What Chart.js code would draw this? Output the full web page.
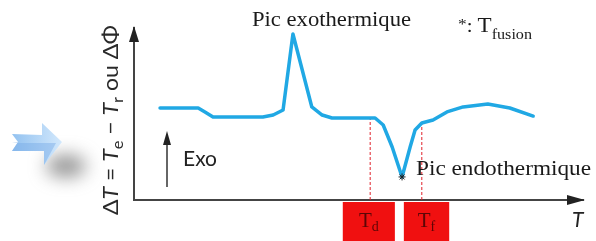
<!DOCTYPE html>
<html>
<head>
<meta charset="utf-8">
<script src="https://cdn.jsdelivr.net/npm/chart.js@4/dist/chart.umd.min.js"></script>
<style>
  html, body { margin: 0; padding: 0; background: #fff; }
  #wrap { width: 596px; height: 241px; position: relative; }
</style>
</head>
<body>
<div id="wrap"><canvas id="dsc"></canvas></div>
<script>
// ---- data (x: temperature, arbitrary 0..100 ; y: ΔT signal, arbitrary 0..100) ----
const tempX  = [5.8, 14.3, 15.8, 17.6, 23.6, 28.7, 31.0, 33.2, 35.4, 39.6, 41.9, 44.1, 48.1,
                53.7, 55.5, 57.5, 59.7, 61.5, 62.6, 64.1, 66.6, 69.7, 73.3, 78.8, 83.7, 88.9];
const deltaT = [53.5, 53.5, 51.2, 48.3, 48.3, 48.3, 49.4, 52.3, 96.5, 54.1, 49.4, 47.7, 47.7,
                47.7, 43.6, 30.8, 13.4, 30.8, 40.7, 44.8, 46.5, 51.2, 54.1, 55.8, 53.5, 48.8];

const markerNames = ['d', 'f'];          // T_d, T_f
const markerX     = [52.6, 64.1];        // dashed guide positions
const markerTop   = [47.7, 44.8];        // where the guide meets the curve
const boxFrom     = [46.5, 60.1];        // red boxes under the axis
const boxTo       = [58.1, 70.2];

const fusionX = 59.7, fusionY = 13.4;    // '*' : T fusion

const SERIF = '"Liberation Serif", "DejaVu Serif", serif';
const SANS  = 'Lato, "Open Sans", "Noto Sans", sans-serif';

// text pieces [{t, font, dy}] laid out one after another
function runWidth(ctx, runs) {
  let w = 0;
  for (const r of runs) { ctx.font = r.font; w += ctx.measureText(r.t).width; }
  return w;
}
function drawRuns(ctx, runs, x, y) {
  for (const r of runs) {
    ctx.font = r.font;
    ctx.fillText(r.t, x, y + (r.dy || 0));
    x += ctx.measureText(r.t).width;
  }
}
// stretch horizontally so the run spans `width` px (reference font is wider than Times)
function drawRunsFit(ctx, runs, x, y, width) {
  const k = width / runWidth(ctx, runs);
  ctx.save();
  ctx.translate(x, y);
  ctx.scale(k, 1);
  drawRuns(ctx, runs, 0, 0);
  ctx.restore();
}

const decor = {
  id: 'decor',
  beforeDraw(chart) {
    const ctx = chart.ctx;
    ctx.save();
    // soft grey shadow behind the blue arrow
    ctx.filter = 'blur(9px)';
    ctx.fillStyle = 'rgba(110,110,110,0.75)';
    ctx.beginPath();
    ctx.ellipse(66, 166, 20, 11, 0, 0, Math.PI * 2);
    ctx.fill();
    ctx.filter = 'none';
    // blue arrow
    const lg = ctx.createLinearGradient(12, 0, 62, 0);
    lg.addColorStop(0, '#93c2f0');
    lg.addColorStop(1, '#d2e8fc');
    ctx.fillStyle = lg;
    ctx.beginPath();
    ctx.moveTo(12, 134); ctx.lineTo(42, 135); ctx.lineTo(42, 123);
    ctx.lineTo(62, 142); ctx.lineTo(44, 165); ctx.lineTo(44, 151);
    ctx.lineTo(12, 151); ctx.lineTo(18, 142); ctx.closePath();
    ctx.fill();
    ctx.fillStyle = 'rgba(120,170,230,0.45)';
    ctx.beginPath();
    ctx.moveTo(12, 143); ctx.lineTo(56, 143); ctx.lineTo(44, 165); ctx.lineTo(44, 151);
    ctx.lineTo(12, 151); ctx.lineTo(18, 142); ctx.closePath();
    ctx.fill();
    ctx.restore();
  },
  afterDraw(chart) {
    const ctx = chart.ctx, a = chart.chartArea;
    const xs = chart.scales.x;
    ctx.save();
    // axis arrowheads
    ctx.fillStyle = '#222';
    ctx.beginPath();
    ctx.moveTo(a.left, a.top - 2); ctx.lineTo(a.left - 5, a.top + 14); ctx.lineTo(a.left + 5, a.top + 14);
    ctx.closePath(); ctx.fill();
    ctx.beginPath();
    ctx.moveTo(a.right + 2, a.bottom); ctx.lineTo(a.right - 16, a.bottom - 5); ctx.lineTo(a.right - 16, a.bottom + 5);
    ctx.closePath(); ctx.fill();

    // red boxes with T_d / T_f
    for (let i = 0; i < markerNames.length; i++) {
      const x0 = xs.getPixelForValue(boxFrom[i]), x1 = xs.getPixelForValue(boxTo[i]);
      ctx.fillStyle = '#f01010';
      ctx.fillRect(x0, a.bottom + 2, x1 - x0, chart.height - a.bottom);
      ctx.fillStyle = '#5c0606';
      const runs = [{ t: 'T', font: '21px ' + SERIF }, { t: markerNames[i], font: '14px ' + SERIF, dy: 4 }];
      drawRuns(ctx, runs, (x0 + x1) / 2 - runWidth(ctx, runs) / 2, 227);
    }

    ctx.fillStyle = '#1a1a1a';
    ctx.textBaseline = 'alphabetic';
    // peak labels
    drawRunsFit(ctx, [{ t: 'Pic exothermique', font: '20px ' + SERIF }], 252, 26, 159);
    drawRunsFit(ctx, [{ t: 'Pic endothermique', font: '20px ' + SERIF }], 416, 175, 175);
    // *: T fusion
    drawRunsFit(ctx, [
      { t: '*', font: '15px ' + SERIF, dy: -3 },
      { t: ': ', font: '18px ' + SERIF },
      { t: 'T', font: '20px ' + SERIF },
      { t: 'fusion', font: '14px ' + SERIF, dy: 7 },
    ], 458, 32, 74);

    // Exo arrow
    ctx.strokeStyle = '#333'; ctx.lineWidth = 1.5;
    ctx.beginPath(); ctx.moveTo(167, 187); ctx.lineTo(167, 140); ctx.stroke();
    ctx.fillStyle = '#222';
    ctx.beginPath(); ctx.moveTo(167, 131); ctx.lineTo(163, 145); ctx.lineTo(171, 145); ctx.closePath(); ctx.fill();
    ctx.font = '21px ' + SANS;
    ctx.fillText('Exo', 183, 166);

    // x axis title
    ctx.font = 'italic 21px ' + SANS;
    ctx.fillText('T', 572, 227);

    // y axis title (rotated)
    const yl = [
      { t: 'Δ', font: '21px ' + SANS },
      { t: 'T', font: 'italic 21px ' + SANS },
      { t: ' = ', font: '21px ' + SANS },
      { t: 'T', font: 'italic 21px ' + SANS },
      { t: 'e', font: '15px ' + SANS, dy: 5 },
      { t: ' − ', font: '21px ' + SANS },
      { t: 'T', font: 'italic 21px ' + SANS },
      { t: 'r', font: '15px ' + SANS, dy: 5 },
      { t: ' ou ΔΦ', font: '21px ' + SANS },
    ];
    ctx.translate(118, 120);
    ctx.rotate(-Math.PI / 2);
    ctx.fillStyle = '#2a2a2a';
    drawRunsFit(ctx, yl, -95, 0, 190);
    ctx.restore();
  }
};

const lineData = tempX.map((x, i) => ({ x, y: deltaT[i] }));
const guideSets = markerX.map((x, i) => ({
  data: [{ x, y: 0 }, { x, y: markerTop[i] }],
  borderColor: '#e0202a', borderWidth: 1, borderDash: [3, 2],
  pointRadius: 0, tension: 0, order: 3,
}));

new Chart(document.getElementById('dsc'), {
  type: 'line',
  data: {
    datasets: [
      ...guideSets,
      {
        data: lineData,
        borderColor: '#20a8e4',
        borderWidth: 3.5,
        borderJoinStyle: 'round',
        borderCapStyle: 'round',
        pointRadius: 0,
        tension: 0,
        order: 2,
      },
      {
        data: [{ x: fusionX, y: fusionY }],
        pointStyle: 'star',
        pointRadius: 3.5,
        borderColor: '#222',
        borderWidth: 1,
        showLine: false,
        order: 1,
      },
    ],
  },
  options: {
    responsive: true,
    maintainAspectRatio: false,
    animation: false,
    layout: { padding: { left: 134, right: 13, top: 28, bottom: 41 } },
    plugins: { legend: { display: false }, tooltip: { enabled: false } },
    scales: {
      x: {
        type: 'linear', min: 0, max: 100,
        ticks: { display: false }, grid: { display: false },
        border: { color: '#444', width: 2 },
        afterFit: s => { s.height = 0; },
      },
      y: {
        type: 'linear', min: 0, max: 100,
        ticks: { display: false }, grid: { display: false },
        border: { color: '#444', width: 2 },
        afterFit: s => { s.width = 0; },
      },
    },
  },
  plugins: [decor],
});
</script>
</body>
</html>
